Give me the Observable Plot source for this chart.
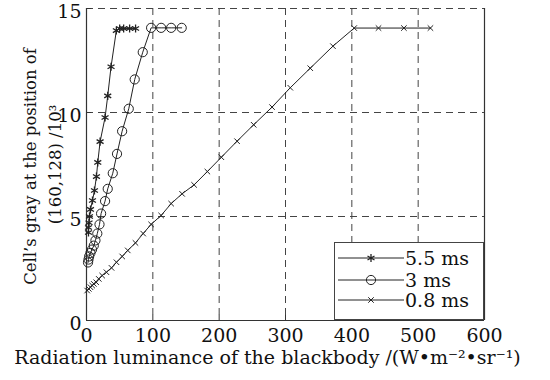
<!DOCTYPE html>
<html><head><meta charset="utf-8">
<script src="https://cdn.jsdelivr.net/npm/d3@7"></script>
<script src="https://cdn.jsdelivr.net/npm/@observablehq/plot@0.6"></script>
<style>
body{margin:0;background:#fff;}
#wrap{position:relative;width:550px;height:380px;}
#legend{position:absolute;left:334px;top:242px;}
</style></head><body><div id="wrap"></div>
<script>
const seriesNames = ["5.5 ms", "3 ms", "0.8 ms"];
const s55_x = [3, 3, 3.8, 4.5, 6, 9, 12, 15, 17, 20.5, 28, 32, 37, 45, 50, 56, 65, 74];
const s55_y = [4.23, 4.47, 4.7, 5.0, 5.34, 5.77, 6.25, 6.92, 7.6, 8.6, 9.76, 10.8, 12.2, 13.94, 14.04, 14.04, 14.04, 14.04];
const s3_x = [2.3, 3, 4, 6, 8.3, 11, 13.5, 16.3, 19.6, 22, 28, 32, 39.6, 46, 53.7, 63.7, 72.7, 84.8, 97.4, 112.5, 127.6, 143.5];
const s3_y = [2.79, 2.93, 3.08, 3.25, 3.41, 3.6, 3.85, 4.18, 4.62, 5.14, 5.74, 6.33, 7.08, 8.01, 9.1, 10.18, 11.59, 12.9, 14.07, 14.07, 14.07, 14.07];
const s08_x = [1, 3.5, 6, 8.6, 11, 14.6, 18.5, 23.6, 30.1, 37.7, 45.2, 53.8, 62.2, 73.8, 85.4, 97.4, 112.5, 127.6, 144.1, 162.2, 182.2, 203.3, 227, 252, 279.7, 307.2, 337.3, 371.5, 403.6, 440.2, 478.5, 518.5];
const s08_y = [1.44, 1.52, 1.6, 1.68, 1.76, 1.84, 2.0, 2.16, 2.32, 2.53, 2.80, 3.08, 3.37, 3.73, 4.18, 4.62, 5.05, 5.62, 6.09, 6.52, 7.16, 7.85, 8.62, 9.41, 10.26, 11.19, 12.13, 13.19, 14.06, 14.06, 14.06, 14.06];
const xTicks = [0, 100, 200, 300, 400, 500, 600];
const yTicks = [0, 5, 10, 15];
const xGrid = [100, 200, 300, 400, 500];
const yGrid = [5, 10, 15];
const xLabel = "Radiation luminance of the blackbody /(W\u2022m\u207B\u00B2\u2022sr\u207B\u00B9)";
const yLabel1 = "Cell\u2019s gray at the position of";
const yLabel2 = "(160,128) /10\u00B3";

const mk = (xs, ys, s) => xs.map((x, i) => ({x, y: ys[i], s}));
const d55 = mk(s55_x, s55_y, seriesNames[0]);
const d3s = mk(s3_x, s3_y, seriesNames[1]);
const d08 = mk(s08_x, s08_y, seriesNames[2]);

const FONT = "DejaVu Serif";
const chart = Plot.plot({
  width: 550, height: 380,
  marginLeft: 86, marginRight: 66, marginTop: 8, marginBottom: 60,
  style: {fontFamily: FONT, fontSize: "19px", background: "#fff", color: "#111"},
  x: {domain: [0, 600], label: null},
  y: {domain: [0, 15], label: null},
  marks: [
    Plot.axisX({ticks: xTicks, tickSize: 0, tickPadding: 8, label: null}),
    Plot.axisY({ticks: yTicks, tickSize: 0, tickPadding: 5, label: null, dy: 3.5}),
    Plot.ruleX(xGrid, {stroke: "#444", strokeDasharray: "7,5", strokeWidth: 1}),
    Plot.ruleY(yGrid, {stroke: "#444", strokeDasharray: "7,5", strokeWidth: 1}),
    Plot.ruleX([0, 600], {stroke: "#333", strokeWidth: 1.2}),
    Plot.ruleY([0], {stroke: "#333", strokeWidth: 1.2}),
    Plot.ruleX(xTicks, {x: d => d, y1: 0, y2: 0.25, stroke: "#333"}),
    Plot.ruleY(yTicks, {y: d => d, x1: 0, x2: 8, stroke: "#333"}),
    Plot.line(d08, {x: "x", y: "y", stroke: "#222", strokeWidth: 1}),
    Plot.line(d3s, {x: "x", y: "y", stroke: "#222", strokeWidth: 1}),
    Plot.line(d55, {x: "x", y: "y", stroke: "#222", strokeWidth: 1}),
    Plot.dot(d08, {x: "x", y: "y", symbol: "times", r: 2.6, stroke: "#222", strokeWidth: 1}),
    Plot.dot(d3s, {x: "x", y: "y", symbol: "circle", r: 4.6, stroke: "#222", fill: "none", strokeWidth: 1}),
    Plot.dot(d55, {x: "x", y: "y", symbol: "asterisk", r: 3.8, stroke: "#222", strokeWidth: 1.3}),
    Plot.text([yLabel1], {frameAnchor: "left", textAnchor: "middle", rotate: -90, dx: -56, dy: 2, fontSize: 16.5, fill: "#111"}),
    Plot.text([yLabel2], {frameAnchor: "left", textAnchor: "middle", rotate: -90, dx: -31, dy: 0, fontSize: 16.5, fill: "#111"}),
    Plot.text([xLabel], {frameAnchor: "bottom", dy: 43, dx: -18, fontSize: 19, fill: "#111"})
  ]
});
const wrap = document.getElementById("wrap");
wrap.appendChild(chart);

// legend
const lw = 150, lh = 78;
const leg = d3.create("svg").attr("id", "legend").attr("width", lw).attr("height", lh);
leg.append("rect").attr("x", 0.5).attr("y", 0.5).attr("width", lw - 1).attr("height", lh - 1)
  .attr("fill", "#fff").attr("stroke", "#444");
const symbols = [d3.symbolAsterisk, d3.symbolCircle, d3.symbolTimes];
const sizes = [3.8, 4.6, 2.6];
const rowsY = [16, 38, 58];
seriesNames.forEach((name, i) => {
  const g = leg.append("g").attr("transform", `translate(0,${rowsY[i]})`);
  g.append("line").attr("x1", 4).attr("x2", 70).attr("stroke", "#222");
  g.append("path").attr("transform", "translate(37,0)")
    .attr("d", d3.symbol(symbols[i], Math.PI * sizes[i] * sizes[i])())
    .attr("fill", "none").attr("stroke", "#222").attr("stroke-width", i === 0 ? 1.3 : 1);
  g.append("text").attr("x", 71).attr("dy", "0.35em").attr("font-family", FONT)
    .attr("font-size", 19).attr("fill", "#111").text(name);
});
wrap.appendChild(leg.node());
</script></body></html>
